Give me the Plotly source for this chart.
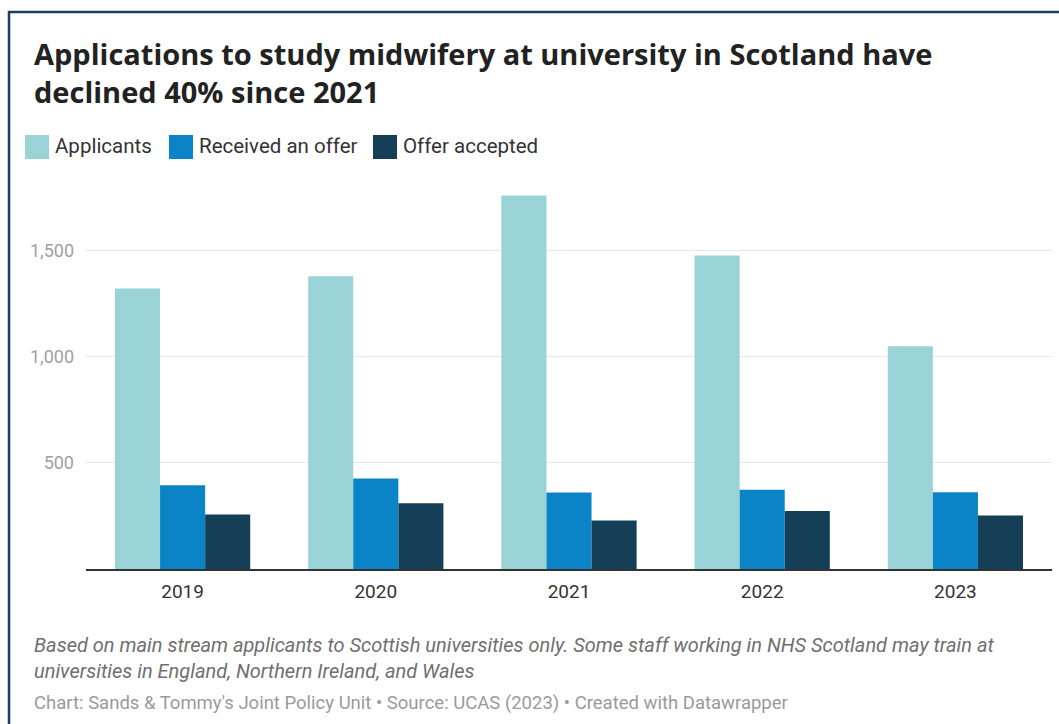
import plotly.graph_objects as go

years = ["2019", "2020", "2021", "2022", "2023"]
applicants = [1322, 1380, 1760, 1477, 1050]
received_offer = [395, 427, 361, 374, 362]
offer_accepted = [257, 310, 229, 273, 252]

series_names = ["Applicants", "Received an offer", "Offer accepted"]
series_colors = ["#9ad3d6", "#0a84c7", "#143f56"]
y_ticks = [500, 1000, 1500]

W, H = 1059, 724
ML, MR, MT, MB = 86, 7, 187, 155
PW, PH = W - ML - MR, H - MT - MB


def px(x):
    return (x - ML) / PW


def py(y):
    return (H - MB - y) / PH


fig = go.Figure()
for name, vals, col in zip(series_names, [applicants, received_offer, offer_accepted], series_colors):
    fig.add_trace(go.Bar(x=years, y=vals, name=name, marker=dict(color=col, line=dict(width=0)),
                         showlegend=False))

fig.update_layout(
    width=W, height=H,
    margin=dict(l=ML, r=MR, t=MT, b=MB),
    paper_bgcolor="white", plot_bgcolor="white",
    barmode="group", bargap=0.3, bargroupgap=0,
    font=dict(family="Roboto", color="#333333"),
    xaxis=dict(showgrid=False, showline=True, linecolor="#333333", linewidth=2,
               ticks="", ticklabelstandoff=4,
               tickfont=dict(size=19, color="#333333"), zeroline=False),
    yaxis=dict(range=[0, 1800], tickvals=y_ticks, ticktext=[f"{v:,}" for v in y_ticks],
               showgrid=True, gridcolor="#e6e6e6", gridwidth=1, zeroline=False,
               showline=False, ticks="", ticklabelstandoff=11,
               tickfont=dict(size=18, color="#a0a0a0")),
)

shapes = []
annotations = []

# outer frame
shapes.append(dict(type="rect", xref="paper", yref="paper",
                   x0=px(9), x1=px(1075), y0=py(740), y1=py(12),
                   line=dict(color="#1d3b6b", width=2.5), fillcolor="rgba(0,0,0,0)", layer="above"))

# title
annotations.append(dict(xref="paper", yref="paper", x=px(32), y=py(32), xanchor="left", yanchor="top",
                        text="<b>Applications to study midwifery at university in Scotland have<br>declined 40% since 2021</b>",
                        showarrow=False, align="left",
                        font=dict(family="Open Sans", size=29, color="#222222")))

# legend
leg_x = [25, 169, 373]
for xs, name, col in zip(leg_x, series_names, series_colors):
    shapes.append(dict(type="rect", xref="paper", yref="paper",
                       x0=px(xs), x1=px(xs + 24), y0=py(159), y1=py(135),
                       fillcolor=col, line=dict(width=0)))
    annotations.append(dict(xref="paper", yref="paper", x=px(xs + 28), y=py(146),
                            xanchor="left", yanchor="middle", text=name, showarrow=False,
                            font=dict(family="Roboto", size=20.5, color="#333333")))

# notes
annotations.append(dict(xref="paper", yref="paper", x=px(32), y=py(631), xanchor="left", yanchor="top",
                        text="<i>Based on main stream applicants to Scottish universities only. Some staff working in NHS Scotland may train at<br>universities in England, Northern Ireland, and Wales</i>",
                        showarrow=False, align="left",
                        font=dict(family="Roboto", size=20, color="#6f6f6f")))
annotations.append(dict(xref="paper", yref="paper", x=px(32), y=py(703), xanchor="left", yanchor="middle",
                        text="Chart: Sands &amp; Tommy's Joint Policy Unit • Source: UCAS (2023) • Created with Datawrapper",
                        showarrow=False, align="left",
                        font=dict(family="Roboto", size=18.5, color="#9a9a9a")))

fig.update_layout(shapes=shapes, annotations=annotations)
fig.write_html("out.html")
